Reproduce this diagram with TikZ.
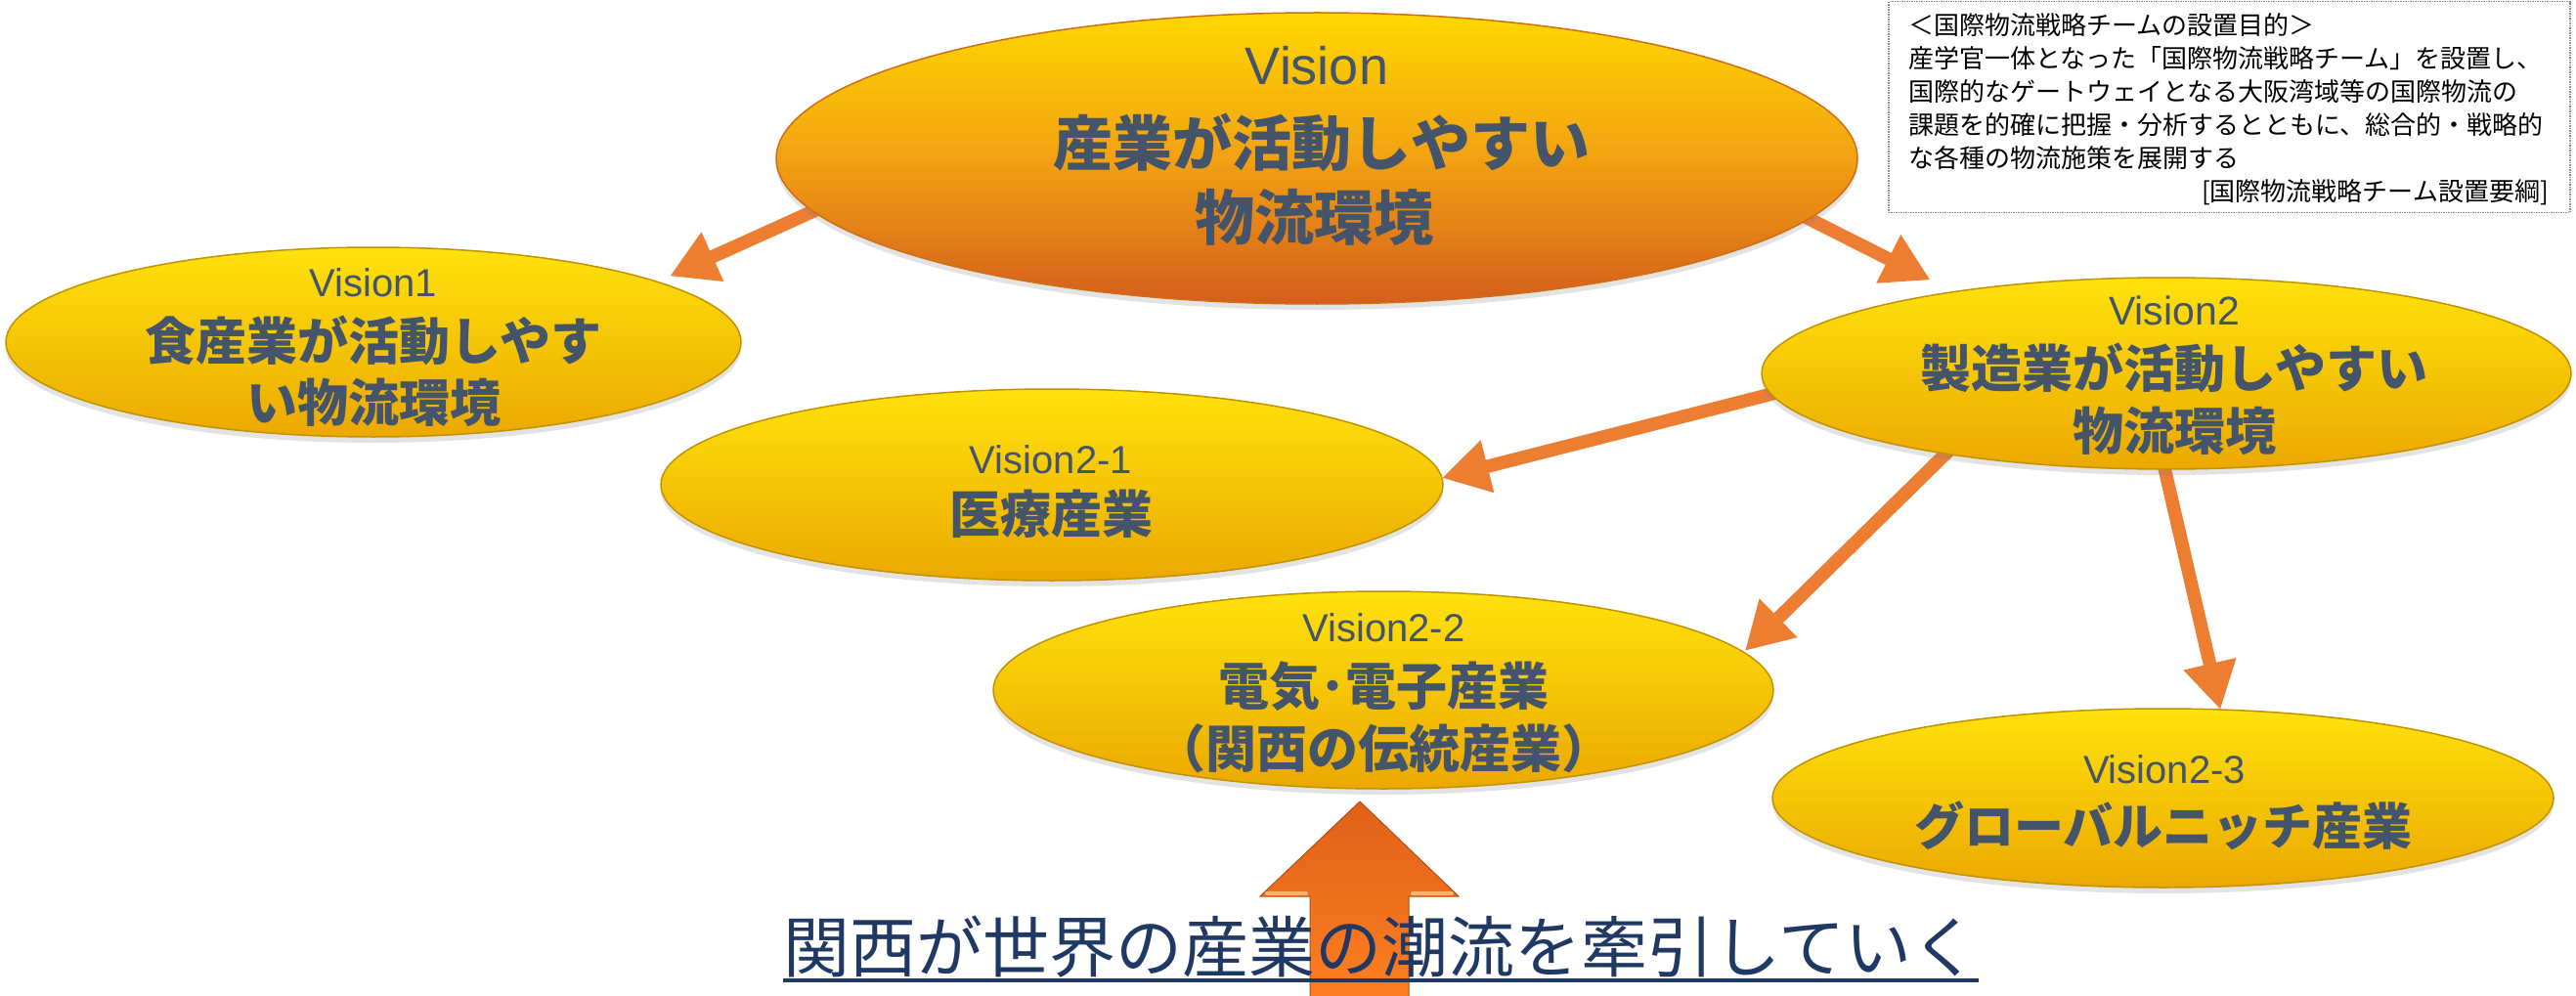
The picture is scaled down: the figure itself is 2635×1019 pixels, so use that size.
\documentclass[tikz,border=0pt]{standalone}
\usepackage{fontspec}
\setmainfont{Liberation Sans}
\newfontfamily\jp{Noto Sans CJK JP}
\usetikzlibrary{shapes.geometric,arrows.meta,shadows}
\pgfdeclarelayer{bg}
\pgfsetlayers{bg,main}
\definecolor{txt}{HTML}{44546A}
\definecolor{navy}{HTML}{1F3864}
\definecolor{arr}{HTML}{ED7D31}
\definecolor{ytop}{HTML}{FFE20C}
\definecolor{ybot}{HTML}{EBA800}
\definecolor{yedge}{HTML}{C29200}
\definecolor{mtop}{HTML}{FFD800}
\definecolor{mmid}{HTML}{F2A112}
\definecolor{mbot}{HTML}{D45E1C}
\definecolor{bigtop}{HTML}{E0601A}
\definecolor{bigbot}{HTML}{FF8020}
\definecolor{bevel}{HTML}{FFB36A}
\definecolor{boxc}{HTML}{8C8C8C}
\begin{document}
\begin{tikzpicture}[x=1pt,y=-1pt,
  oval/.style={ellipse, inner sep=0pt, outer sep=0pt, draw=yedge, line width=1.5pt,
    top color=ytop, bottom color=ybot,
    drop shadow={shadow xshift=0pt, shadow yshift=-6pt, opacity=0.22}},
  mainoval/.style={oval, top color=mtop, bottom color=mbot, middle color=mmid, draw=mbot!70!yedge},
  vlab/.style={anchor=base, text=txt, inner sep=0pt, font=\fontsize{40}{40}\selectfont},
  jlab/.style={anchor=base, text=txt, inner sep=0pt, font=\jp\bfseries\fontsize{52}{52}\selectfont},
  conn/.style={draw=arr, line width=13.5pt, -{Triangle[width=52pt,length=48pt]}, shorten <=-30pt},
  boxline/.style={inner sep=0pt, font=\jp\fontsize{26}{26}\selectfont, text=black}
]
\useasboundingbox (0,0) rectangle (2635,1019);
\begin{pgfonlayer}{bg}
\fill[white] (0,0) rectangle (2635,1019);
\end{pgfonlayer}

% ellipses
\node[mainoval, minimum width=1106pt, minimum height=298pt] (vmain) at (1347,162) {};
\node[oval, minimum width=752pt, minimum height=194pt] (v1) at (382,350) {};
\node[oval, minimum width=828pt, minimum height=196pt] (v2) at (2216,382) {};
\node[oval, minimum width=800pt, minimum height=196pt] (v21) at (1076,496) {};
\node[oval, minimum width=798pt, minimum height=202pt] (v22) at (1415,706) {};
\node[oval, minimum width=799pt, minimum height=183pt] (v23) at (2212.5,816.5) {};

% connectors
\begin{pgfonlayer}{bg}
\draw[conn, shorten >=14.3pt] (vmain.186) -- (v1.12.55);
\draw[conn, shorten >=27pt] (vmain.353.9) -- (v2.159.2);
\draw[conn] (v2.183.86) -- (v21.1.44);
\draw[conn, shorten >=2pt] (v2.200.9) -- (v22.6.93);
\draw[conn] (v2.269.8) -- (v23.57.2);
\end{pgfonlayer}

% labels
\node[vlab, font=\fontsize{54}{54}\selectfont] (tm0) at (1347,86.3) {Vision};
\node[jlab, font=\jp\bfseries\fontsize{61}{61}\selectfont] (tm1) at (1352,169.2) {産業が活動しやすい};
\node[jlab, font=\jp\bfseries\fontsize{61}{61}\selectfont] (tm2) at (1344,245.2) {物流環境};

\node[vlab] (t10) at (382,303.3) {Vision1};
\node[jlab] (t11) at (382,368.8) {食産業が活動しやす};
\node[jlab] (t12) at (382,431.8) {い物流環境};

\node[vlab, font=\fontsize{41}{41}\selectfont] (t20) at (2224,332.7) {Vision2};
\node[jlab] (t21) at (2224,396.3) {製造業が活動しやすい};
\node[jlab] (t22) at (2224,460.8) {物流環境};

\node[vlab] (t210) at (1075,484.3) {Vision2-1};
\node[jlab] (t211) at (1075,545.4) {医療産業};

\node[vlab] (t220) at (1415.5,656.8) {Vision2-2};
\node[jlab] (t221) at (1415.5,721.3) {電気･電子産業};
\node[jlab] (t222) at (1415.5,785.8) {（関西の伝統産業）};

\node[vlab] (t230) at (2214,801.8) {Vision2-3};
\node[jlab, font=\jp\bfseries\fontsize{51}{51}\selectfont] (t231) at (2213,864.4) {グローバルニッチ産業};

% big up arrow
\path[draw=bigtop!80!black, line width=1pt, top color=bigtop, bottom color=bigbot]
  (1391,820) -- (1492,917) -- (1441,917) -- (1441,1030) -- (1340,1030) -- (1340,917) -- (1289,917) -- cycle;
\draw[bevel, line width=4pt, line cap=round] (1296,914) -- (1336,914);
\draw[bevel, line width=4pt, line cap=round] (1445,914) -- (1485,914);

% slogan
\node[anchor=base, inner sep=0pt, text=navy, font=\jp\fontsize{68}{68}\selectfont] (slogan) at (1412.5,994.8) {関西が世界の産業の潮流を牽引していく};
\draw[navy, line width=4pt] ([yshift=-8.2pt]slogan.base west) -- ([yshift=-8.2pt]slogan.base east);

% note box
\node[draw=boxc, line width=1.5pt, densely dotted, minimum width=697pt, minimum height=216pt, anchor=north west, inner sep=0pt] (note) at (1931,1) {};
\node[boxline, anchor=base west] (n1) at (1952,36) {＜国際物流戦略チームの設置目的＞};
\node[boxline, anchor=base west] (n2) at (1952,70) {産学官一体となった「国際物流戦略チーム」を設置し、};
\node[boxline, anchor=base west] (n3) at (1952,104) {国際的なゲートウェイとなる大阪湾域等の国際物流の};
\node[boxline, anchor=base west] (n4) at (1952,138) {課題を的確に把握・分析するとともに、総合的・戦略的};
\node[boxline, anchor=base west] (n5) at (1952,172) {な各種の物流施策を展開する};
\node[boxline, anchor=base east] (n6) at (2607,206) {[国際物流戦略チーム設置要綱]};
\end{tikzpicture}
\end{document}
